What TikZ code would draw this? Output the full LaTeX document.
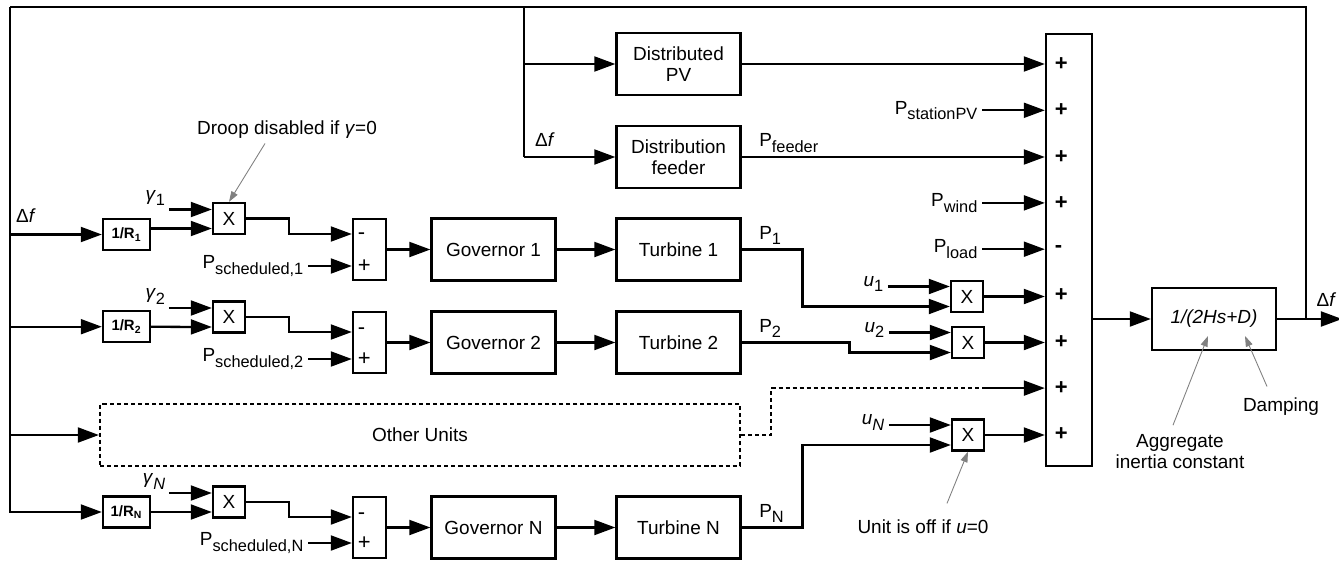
\documentclass[tikz,border=0pt]{standalone}
\usepackage{fontspec}
\setmainfont{Liberation Sans}
\usetikzlibrary{arrows.meta,calc}
\newcommand{\lowsub}[1]{\raisebox{-0.28em}{\fontsize{9.3}{10}\selectfont #1}}
\tikzset{%
  >={Triangle[length=12pt,width=8.5pt]},
  % Specifications for style of nodes:
         base/.style = {rectangle, draw=black, line width=1.3pt, inner sep=1pt,
                        align=center, font=\fontsize{10.8}{12}\selectfont},
        block/.style = {base, minimum width=2.48cm, minimum height=1.24cm},
      gainBox/.style = {base, minimum width=0.94cm, minimum height=0.62cm,
                        font=\fontsize{8.5}{10}\selectfont\bfseries},
      multBox/.style = {base, minimum width=0.64cm, minimum height=0.62cm},
       subBox/.style = {base, minimum width=0.66cm, minimum height=1.22cm},
       sumBox/.style = {base, minimum width=0.92cm, minimum height=8.64cm},
      dashBox/.style = {base, dash pattern=on 2.3pt off 1.7pt,
                        minimum width=12.8cm, minimum height=1.24cm},
          lbl/.style = {inner sep=2pt, font=\fontsize{10.8}{12}\selectfont},
      sumSign/.style = {inner sep=1.5pt, anchor=west, font=\fontsize{12.5}{13}\selectfont\bfseries},
      subSign/.style = {inner sep=1.5pt, anchor=west, font=\fontsize{12.5}{13}\selectfont},
         note/.style = {draw=gray, line width=0.5pt,
                        -{Triangle[length=6pt,width=4pt,fill=gray]}},
}

\begin{document}
\begin{tikzpicture}[x=0.02cm, y=-0.02cm, line width=1.3pt]
  \useasboundingbox (0,0) rectangle (1339,561);
  % Specification of nodes (position, etc.)
    \node (pvDist)  [block] at (678.5,64)   {Distributed\\PV};
    \node (feeder)  [block] at (678.5,157)  {Distribution\\feeder};
    \node (sumNet)  [sumBox] at (1069,250)  {};
    \node (swing)   [block] at (1214,319)   {\textit{1/(2Hs+D)}};
    \node (others)  [dashBox] at (420,435)  {Other Units};
    % unit 1
    \node (gainA)   [gainBox] at (126.5,234.5) {1/R\textsubscript{1}};
    \node (multA)   [multBox] at (229,218.5)   {X};
    \node (subA)    [subBox]  at (369.5,249.5) {};
    \node (govA)    [block]   at (493.5,249.5) {Governor 1};
    \node (turbA)   [block]   at (678.5,249.5) {Turbine 1};
    \node (unitA)   [multBox] at (967,296.5)   {X};
    % unit 2
    \node (gainB)   [gainBox] at (126.5,326.7) {1/R\textsubscript{2}};
    \node (multB)   [multBox] at (229,317)     {X};
    \node (subB)    [subBox]  at (369.5,342.5) {};
    \node (govB)    [block]   at (493.5,342.5) {Governor 2};
    \node (turbB)   [block]   at (678.5,342.5) {Turbine 2};
    \node (unitB)   [multBox] at (968,342.5)   {X};
    % unit N
    \node (gainC)   [gainBox] at (126.5,512)   {1/R\textsubscript{N}};
    \node (multC)   [multBox] at (229,502)     {X};
    \node (subC)    [subBox]  at (369.5,527.5) {};
    \node (govC)    [block]   at (493.5,527.5) {Governor N};
    \node (turbC)   [block]   at (678.5,527.5) {Turbine N};
    \node (unitC)   [multBox] at (968,435)     {X};
    % signs of the summing blocks
    \node (sgnOne)   [sumSign] at (1051,64)    {+};
    \node (sgnTwo)   [sumSign] at (1051,110.3) {+};
    \node (sgnThree) [sumSign] at (1051,156.6) {+};
    \node (sgnFour)  [sumSign] at (1051,202.9) {+};
    \node (sgnFive)  [sumSign] at (1051,249.2) {-};
    \node (sgnSix)   [sumSign] at (1051,295.5) {+};
    \node (sgnSeven) [sumSign] at (1051,341.8) {+};
    \node (sgnEight) [sumSign] at (1051,388.1) {+};
    \node (sgnNine)  [sumSign] at (1051,434.4) {+};
    \node (subSgnA1) [subSign] at (354,236) {-};
    \node (subSgnA2) [subSign] at (354,266) {+};
    \node (subSgnB1) [subSign] at (354,331) {-};
    \node (subSgnB2) [subSign] at (354,359) {+};
    \node (subSgnC1) [subSign] at (354,516) {-};
    \node (subSgnC2) [subSign] at (354,543) {+};
    % input and signal labels
    \node (lblDfIn)    [lbl] at (26,216)  {Δ\textit{f}};
    \node (lblDfFeed)  [lbl] at (545,140) {Δ\textit{f}};
    \node (lblDfOut)   [lbl, anchor=west] at (1312,300) {Δ\textit{f}};
    \node (lblStation) [lbl, anchor=east] at (982,110.3) {P\lowsub{stationPV}};
    \node (lblWind)    [lbl, anchor=east] at (982,202.9) {P\lowsub{wind}};
    \node (lblLoad)    [lbl, anchor=east] at (982,249.2) {P\lowsub{load}};
    \node (schedA)     [lbl, anchor=east] at (308,266) {P\lowsub{scheduled,1}};
    \node (schedB)     [lbl, anchor=east] at (308,359) {P\lowsub{scheduled,2}};
    \node (schedC)     [lbl, anchor=east] at (308,543) {P\lowsub{scheduled,N}};
    % notes
    \node (droopNote)   [lbl] at (287,130) {Droop disabled if \textit{γ}=0};
    \node (offNote)     [lbl] at (923,527) {Unit is off if \textit{u}=0};
    \node (inertiaNote) [lbl, align=center] at (1180,452) {Aggregate\\inertia constant};
    \node (dampNote)    [lbl] at (1281,407) {Damping};
    % helper points of the feedback loop
    \coordinate (busTop)  at (10,7);
    \coordinate (pvTap)   at (524,7);
    \coordinate (fbOut)   at (1306,319);
    \coordinate (outEnd)  at (1342,319);
    \coordinate (dashEnd) at (982,388.1);
  % Specification of lines between nodes specified above
    \draw[->] (swing.east) -- (outEnd);
    \draw (fbOut) |- (busTop);
    \draw[->] (busTop) |- (gainC.west);
    \draw[->] (busTop |- gainA) -- (gainA);
    \draw[->] (busTop |- gainB) -- (gainB);
    \draw[->] (busTop |- others) -- (others);
    \draw (pvTap) -- (pvTap |- feeder);
    \draw[->] (pvTap |- pvDist) -- (pvDist);
    \draw[->] (pvTap |- feeder) -- (feeder);
    % into the summing block
    \draw[->] (pvDist) -- (sumNet.west |- pvDist);
    \draw[->] (lblStation) -- (sumNet.west |- lblStation);
    \draw[->] (feeder.east) node[lbl, anchor=south west, xshift=0.26cm] (lblFeeder)
        {P\lowsub{feeder}} -- (sumNet.west |- feeder.east);
    \draw[->] (lblWind) -- (sumNet.west |- lblWind);
    \draw[->] (lblLoad) -- (sumNet.west |- lblLoad);
    \draw[->] (unitA) -- (sumNet.west |- unitA);
    \draw[->] (unitB) -- (sumNet.west |- unitB);
    \draw[->] (unitC) -- (sumNet.west |- unitC);
    \draw[dash pattern=on 2.3pt off 1.7pt] (others.east) -- ++(30,0) |- (dashEnd);
    \draw[->] (dashEnd) -- (sumNet.west |- dashEnd);
    \draw[->] (sumNet.east |- swing) -- (swing);
    % unit 1
    \draw[->] ($(multA.west)+(-43,-9)$) node[lbl, anchor=south east, inner sep=1.5pt] (gamA)
        {\textit{γ}\lowsub{1}} -- ($(multA.west)+(0,-9)$);
    \draw[->] ($(gainA.east)+(0,-6)$) -- ($(multA.west)+(0,10)$);
    \draw[->] (multA.east) -- ++(43,0) |- ($(subA.west)+(0,-15.5)$);
    \draw[->] (schedA) -- (subA.west |- schedA);
    \draw[->] (subA) -- (govA);
    \draw[->] (govA) -- (turbA);
    \draw[->] (turbA.east) node[lbl, anchor=south west, xshift=0.26cm] (lblPA)
        {P\lowsub{1}} -- ++(61,0) |- ($(unitA.west)+(0,10)$);
    \draw[->] ($(unitA.west)+(-62,-10)$) node[lbl, anchor=east, yshift=0.05cm] (lblUA)
        {\textit{u}\lowsub{1}} -- ($(unitA.west)+(0,-10)$);
    % unit 2
    \draw[->] ($(multB.west)+(-43,-9)$) node[lbl, anchor=south east, inner sep=1.5pt] (gamB)
        {\textit{γ}\lowsub{2}} -- ($(multB.west)+(0,-9)$);
    \draw[->] (gainB) -- ($(multB.west)+(0,10)$);
    \draw[->] (multB.east) -- ++(43,0) |- ($(subB.west)+(0,-10.5)$);
    \draw[->] (schedB) -- (subB.west |- schedB);
    \draw[->] (subB) -- (govB);
    \draw[->] (govB) -- (turbB);
    \draw[->] (turbB.east) node[lbl, anchor=south west, xshift=0.26cm] (lblPB)
        {P\lowsub{2}} -- ++(108,0) |- ($(unitB.west)+(0,10)$);
    \draw[->] ($(unitB.west)+(-62,-10)$) node[lbl, anchor=east, yshift=0.05cm] (lblUB)
        {\textit{u}\lowsub{2}} -- ($(unitB.west)+(0,-10)$);
    % unit N
    \draw[->] ($(multC.west)+(-43,-9)$) node[lbl, anchor=south east, inner sep=1.5pt] (gamC)
        {\textit{γ}\lowsub{\textit{N}}} -- ($(multC.west)+(0,-9)$);
    \draw[->] (gainC) -- ($(multC.west)+(0,10)$);
    \draw[->] (multC.east) -- ++(43,0) |- ($(subC.west)+(0,-10.5)$);
    \draw[->] (schedC) -- (subC.west |- schedC);
    \draw[->] (subC) -- (govC);
    \draw[->] (govC) -- (turbC);
    \draw[->] (turbC.east) node[lbl, anchor=south west, xshift=0.26cm] (lblPC)
        {P\lowsub{N}} -- ++(61,0) |- ($(unitC.west)+(0,10)$);
    \draw[->] ($(unitC.west)+(-62,-10)$) node[lbl, anchor=east, yshift=0.05cm] (lblUC)
        {\textit{u}\lowsub{\textit{N}}} -- ($(unitC.west)+(0,-10)$);
    % notes
    \draw[note] ($(droopNote.south)+(-22,0)$) -- (multA.north);
    \draw[note] ($(offNote.north)+(24,-12)$) -- (unitC.south);
    \draw[note] ($(inertiaNote.north)+(-7,-5)$) -- ($(swing.center)+(-6,17)$);
    \draw[note] ($(dampNote.north)+(-14,-7)$) -- ($(swing.center)+(31,17)$);
  \end{tikzpicture}
\end{document}
